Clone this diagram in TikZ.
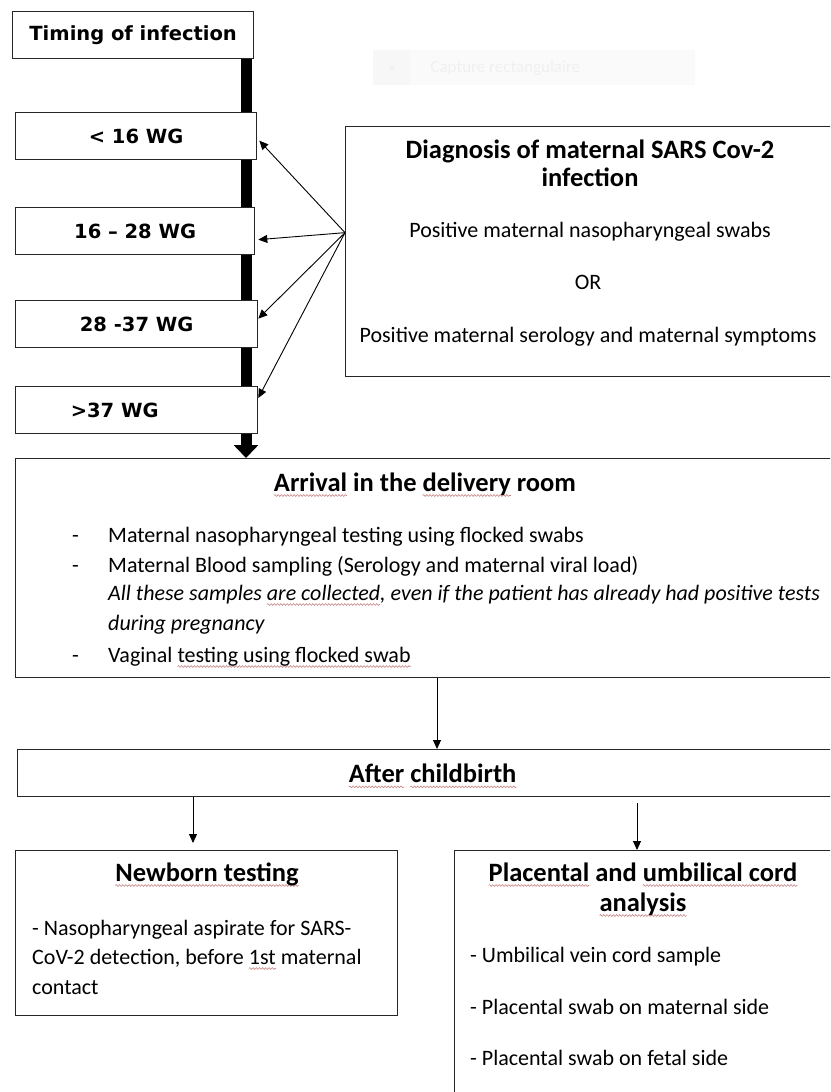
\documentclass[tikz,border=0pt]{standalone}
\usepackage{fontspec}
\setmainfont{Carlito}
\newfontfamily\verdfont{DejaVu Sans}
\usepackage{xcolor}
\usepackage{tikz}
\usetikzlibrary{arrows.meta, calc, backgrounds, decorations.pathmorphing}

\definecolor{spellred}{RGB}{200,135,135}
\newsavebox{\spellbox}
\newdimen\spellwd
\newcommand{\spellmark}[1]{\sbox{\spellbox}{#1}\spellwd=\wd\spellbox\leavevmode\rlap{\tikz[overlay, baseline=0pt, x=1pt, y=1pt] \draw[spellred, line width=0.6pt, decorate, decoration={snake, amplitude=0.9pt, segment length=3.2pt}] (0pt,-4.5pt) -- (\spellwd,-4.5pt);}\usebox{\spellbox}}

\tikzset{
  box/.style={draw=black!85, line width=1.3pt, fill=white, inner sep=0pt, anchor=north west},
  wgbox/.style={box, minimum height=47pt, font=\verdfont\bfseries\fontsize{19.5}{23}\selectfont},
  bodytxt/.style={anchor=base west, inner sep=0pt, font=\fontsize{22}{26}\selectfont},
  headtxt/.style={anchor=base, inner sep=0pt, font=\bfseries\fontsize{26.5}{30}\selectfont},
  linkarrow/.style={-{Triangle[length=9pt,width=8pt]}, line width=0.9pt},
}

\begin{document}
\begin{tikzpicture}[x=1pt, y=-1pt]
    \useasboundingbox (0,0) rectangle (830,1092);
    \clip (0,0) rectangle (830,1092);

    % faint screen capture toolbar
    \fill[black!2] (373,50) rectangle (695,85);
    \fill[black!3] (373,50) rectangle (410,85);
    \fill[black!6] (392,68) circle (2.5);
    \node[anchor=west, text=black!6, font=\fontsize{17}{20}\selectfont] (capture) at (427,68) {Capture rectangulaire};

    % timing column
    \node[wgbox, minimum width=241pt] (timing) at (12,11) {Timing of infection};
    \node[wgbox, minimum width=241pt] (lt16) at (15,112) {< 16 WG};
    \node[wgbox, minimum width=239pt] (w1628) at (15,207) {16 – 28 WG};
    \node[wgbox, minimum width=242pt] (w2837) at (15,300) {28 -37 WG};
    \node[wgbox, minimum width=242pt] (gt37) at (15,386) {>37 WG\kern44pt};

    % diagnosis box
    \node[box, minimum width=486pt, minimum height=250pt] (diag) at (345,126) {};
    \node[headtxt] (diagt1) at (590,158) {Diagnosis of maternal SARS Cov-2};
    \node[headtxt] (diagt2) at (590,186) {infection};
    \node[bodytxt, anchor=base] (diagl1) at (590,237) {Positive maternal nasopharyngeal swabs};
    \node[bodytxt, anchor=base] (diagor) at (588,289) {OR};
    \node[bodytxt, anchor=base] (diagl2) at (588,342) {Positive maternal serology and maternal symptoms};

    % arrival box
    \node[box, minimum width=880pt, minimum height=219pt] (arrival) at (15,458) {};
    \node[headtxt] (arrt) at (425,491) {\spellmark{Arrival} in the \spellmark{delivery} room};
    \node[bodytxt] (arrd1) at (72,542) {-};
    \node[bodytxt] (arrl1) at (108,542) {Maternal nasopharyngeal testing using flocked swabs};
    \node[bodytxt] (arrd2) at (72,572) {-};
    \node[bodytxt] (arrl2) at (108,572) {Maternal Blood sampling (Serology and maternal viral load)};
    \node[bodytxt] (arrl3) at (108,600) {\itshape All these samples \spellmark{are collected}, even if the patient has already had positive tests};
    \node[bodytxt] (arrl4) at (108,630) {\itshape during pregnancy};
    \node[bodytxt] (arrd5) at (72,662) {-};
    \node[bodytxt] (arrl5) at (108,662) {Vaginal \spellmark{testing using flocked swab}};

    % after childbirth box
    \node[box, minimum width=830pt, minimum height=47pt, font=\bfseries\fontsize{26.5}{30}\selectfont] (after) at (17,749) {\spellmark{After} \spellmark{childbirth}};

    % newborn box
    \node[box, minimum width=382pt, minimum height=165pt] (newborn) at (15,850) {};
    \node[headtxt] (nbt) at (207,881) {\spellmark{Newborn testing}};
    \node[bodytxt] (nbl1) at (32,935) {- Nasopharyngeal aspirate for SARS-};
    \node[bodytxt] (nbl2) at (32,964) {CoV-2 detection, before \spellmark{1st} maternal};
    \node[bodytxt] (nbl3) at (32,994) {contact};

    % placental box
    \node[box, minimum width=378pt, minimum height=260pt] (placenta) at (454,850) {};
    \node[headtxt] (plt1) at (643,881) {\spellmark{Placental} and \spellmark{umbilical cord}};
    \node[headtxt] (plt2) at (643,911) {\spellmark{analysis}};
    \node[bodytxt] (pll1) at (470,962) {- Umbilical vein cord sample};
    \node[bodytxt] (pll2) at (470,1014) {- Placental swab on maternal side};
    \node[bodytxt] (pll3) at (470,1065) {- Placental swab on fetal side};

    % thick time bar behind the boxes
    \coordinate (barx) at (246,0);
    \begin{scope}[on background layer]
      \draw[line width=11pt, -{Triangle[length=13pt,width=24pt]}] (timing.south -| barx) -- (arrival.north -| barx);
    \end{scope}

    % arrows from the diagnosis box
    \coordinate (dsrc) at ($(diag.west)+(0,-19)$);
    \draw[linkarrow] (dsrc) -- ($(lt16.east)+(2,4.5)$);
    \draw[linkarrow] (dsrc) -- ($(w1628.east)+(3,8.5)$);
    \draw[linkarrow] (dsrc) -- ($(w2837.east)+(0,-5.5)$);
    \draw[linkarrow] (dsrc) -- ($(gt37.north east)+(0,12)$);

    % arrows down the page
    \coordinate (arrx) at (437,0);
    \coordinate (nbx) at (193,0);
    \coordinate (plx) at (637,0);
    \draw[linkarrow] (arrival.south -| arrx) -- (after.north -| arrx);
    \draw[linkarrow, shorten >=7pt] (after.south -| nbx) -- (newborn.north -| nbx);
    \draw[linkarrow, shorten <=6pt] (after.south -| plx) -- (placenta.north -| plx);

  \end{tikzpicture}
\end{document}
